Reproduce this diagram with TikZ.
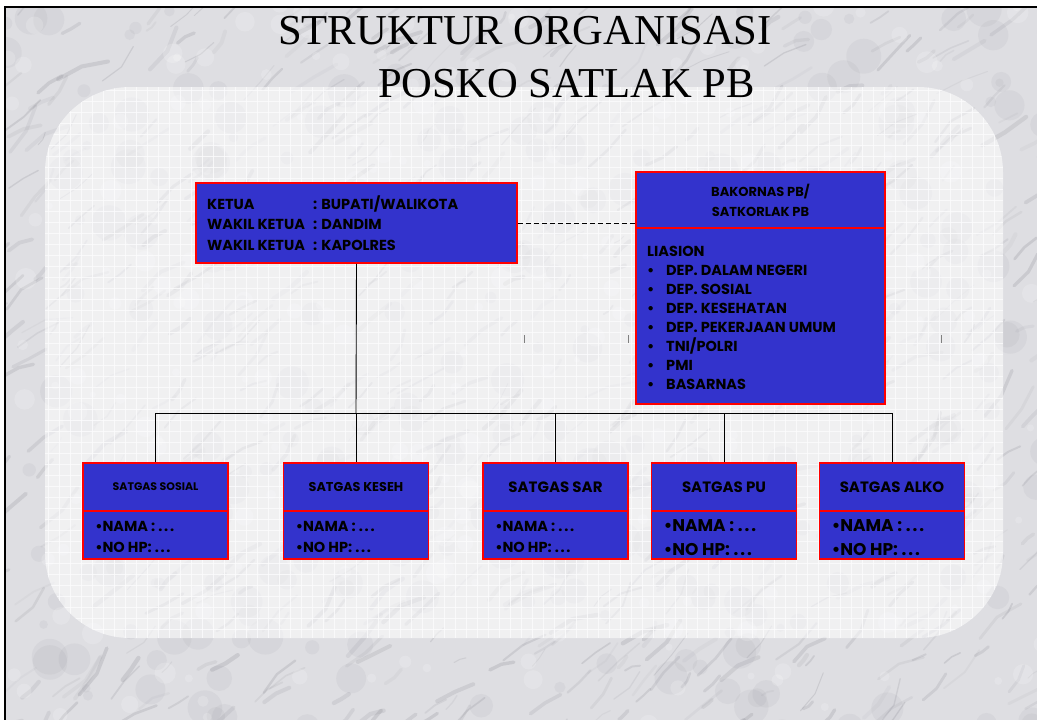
\documentclass[tikz,border=0pt]{standalone}
\usepackage{fontspec}
\setmainfont{Liberation Serif}
\newfontfamily\bx{Poppins}
\newcommand\fsz[1]{\fontsize{#1}{#1}\selectfont}
\definecolor{boxblue}{RGB}{51,51,204}
\definecolor{boxred}{RGB}{255,0,0}
\definecolor{marble}{RGB}{222,222,226}
\definecolor{vein}{RGB}{120,120,130}
\definecolor{gridline}{RGB}{252,252,253}
\begin{document}
\begin{tikzpicture}[x=1pt,y=-1pt,
  box/.style={draw=boxred, fill=boxblue, line width=1.8pt, inner sep=0pt, text=black},
  lbl/.style={inner sep=0pt, anchor=base west, text=black, font=\bx\bfseries},
  link/.style={draw=black, line width=0.9pt},
  veinline/.style={draw=vein, line cap=round, line join=round},
  tick/.style={draw=gray, line width=0.8pt},
]
\useasboundingbox (0,0) rectangle (1037,720);

% marble background
\fill[marble] (5,7) rectangle (1037,720);
\begin{scope}
  \clip (5,7) rectangle (1037,720);
  \pgfmathsetseed{4711}
  \foreach \i in {1,...,300}{
    \pgfmathsetmacro{\xa}{rnd*1100-30}
    \pgfmathsetmacro{\ya}{rnd*760-20}
    \pgfmathsetmacro{\rr}{4+rnd*14}
    \fill[vein, opacity=0.07] (\xa,\ya) circle[radius=\rr pt];
  }
  \foreach \i in {1,...,700}{
    \pgfmathsetmacro{\xa}{rnd*1100-30}
    \pgfmathsetmacro{\ya}{rnd*760-20}
    \pgfmathsetmacro{\len}{6+rnd*22}
    \pgfmathsetmacro{\ang}{-25-rnd*30}
    \pgfmathsetmacro{\angb}{\ang+rnd*50-25}
    \pgfmathsetmacro{\lw}{0.8+rnd*3.5}
    \pgfmathsetmacro{\op}{0.05+rnd*0.15}
    \draw[veinline, line width=\lw pt, opacity=\op] (\xa,\ya) -- ++(\ang:\len) -- ++(\angb:\len);
  }
  \foreach \i in {1,...,260}{
    \pgfmathsetmacro{\xa}{rnd*1100-30}
    \pgfmathsetmacro{\ya}{rnd*760-20}
    \pgfmathsetmacro{\rr}{3+rnd*8}
    \fill[white, opacity=0.18] (\xa,\ya) circle[radius=\rr pt];
  }
\end{scope}

% frame edges
\draw[black, line width=2.2pt] (5,720) -- (5,7) -- (1037,7);

% light panel with grid
\fill[white, opacity=0.55, rounded corners=85pt] (45,87) rectangle (1003,638);
\begin{scope}
  \clip[rounded corners=85pt] (45,87) rectangle (1003,638);
  \foreach \gx in {48,59,...,1003} \draw[gridline, opacity=0.8, line width=0.6pt] (\gx,87) -- (\gx,638);
  \foreach \gy in {90,101,...,638} \draw[gridline, opacity=0.8, line width=0.6pt] (45,\gy) -- (1003,\gy);
\end{scope}

% title
\node[inner sep=0pt, anchor=base west, text=black, font=\fsz{42.6}] (title1) at (278,45) {STRUKTUR ORGANISASI};
\node[inner sep=0pt, anchor=base west, text=black, font=\fsz{42.6}] (title2) at (378,97) {POSKO SATLAK PB};

% small marks
\draw[tick] (524,335) -- (524,343);
\draw[tick] (628,335) -- (628,343);
\draw[tick] (941,335) -- (941,343);

% chairman box
\node[box, minimum width=321pt, minimum height=80pt] (ketua) at (356.5,223) {};
\node[lbl, font=\bx\bfseries\fsz{14.5}] (k1) at (207,209) {KETUA};
\node[lbl, font=\bx\bfseries\fsz{14.5}] (k2) at (207,229.5) {WAKIL KETUA};
\node[lbl, font=\bx\bfseries\fsz{14.5}] (k3) at (207,250) {WAKIL KETUA};
\node[lbl, font=\bx\bfseries\fsz{14.5}] (k1v) at (313,209) {: BUPATI/WALIKOTA};
\node[lbl, font=\bx\bfseries\fsz{14.5}] (k2v) at (313,229.5) {: DANDIM};
\node[lbl, font=\bx\bfseries\fsz{14.5}] (k3v) at (313,250) {: KAPOLRES};

% coordination box
\node[box, minimum width=249pt, minimum height=56pt, align=center,
      font=\bx\bfseries\fontsize{13}{20}\selectfont] (bakH) at (760.5,200) {BAKORNAS PB/\\SATKORLAK PB};
\node[box, minimum width=249pt, minimum height=176pt] (bakB) at (760.5,316) {};
\node[lbl, font=\bx\bfseries\fsz{14.5}] (lia) at (647,256) {LIASION};
\foreach \nm/\yy/\tx in {l1/275/{DEP. DALAM NEGERI}, l2/294/{DEP. SOSIAL}, l3/313/{DEP. KESEHATAN},
                        l4/332/{DEP. PEKERJAAN UMUM}, l5/351/{TNI/POLRI}, l6/370/{PMI}, l7/389/{BASARNAS}}{
  \node[lbl, font=\bx\bfseries\fsz{14.5}] (\nm b) at (647,\yy) {•};
  \node[lbl, font=\bx\bfseries\fsz{14.5}] (\nm) at (666,\yy) {\tx};
}

% task force boxes
\foreach \nm/\cx/\hs/\bs/\yb/\tx in {
    sosial/155.5/11/14.5/552/SATGAS SOSIAL,
    keseh/356/12.8/14.5/552/SATGAS KESEH,
    sar/555.5/15/14.5/552/SATGAS SAR,
    pu/724/15/17/555/SATGAS PU,
    alko/892/15/17/555/SATGAS ALKO}{
  \node[box, minimum width=145pt, minimum height=48pt, font=\bx\bfseries\fsz{\hs}] (\nm H) at (\cx,487) {\tx};
  \node[box, minimum width=145pt, minimum height=48pt] (\nm B) at (\cx,535) {};
  \node[lbl, font=\bx\bfseries\fsz{\bs}] (\nm N) at ([xshift=13pt]\nm B.west |- 0,531) {•NAMA : .\kern.12em.\kern.12em.};
  \node[lbl, font=\bx\bfseries\fsz{\bs}] (\nm P) at ([xshift=13pt]\nm B.west |- 0,\yb) {•NO HP: .\kern.12em.\kern.12em.};
}

% connectors
\coordinate (bus) at (356,413);
\draw[link] (ketua.south) -- (bus);
\draw[link] (sosialH.north) -- (sosialH.north |- bus) -- (alkoH.north |- bus) -- (alkoH.north);
\draw[link] (kesehH.north) -- (kesehH.north |- bus);
\draw[link] (sarH.north) -- (sarH.north |- bus);
\draw[link] (puH.north) -- (puH.north |- bus);
\draw[link, dash pattern=on 5pt off 3pt] (ketua.east) -- (bakH.west |- ketua.east);
\end{tikzpicture}
\end{document}
